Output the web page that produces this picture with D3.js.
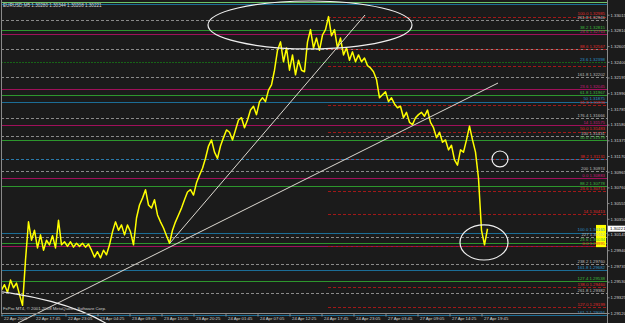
<!DOCTYPE html>
<html>
<head>
<meta charset="utf-8">
<script src="https://cdn.jsdelivr.net/npm/d3@7"></script>
<style>
  html, body { margin: 0; padding: 0; background: #1b1b1b; }
  svg { display: block; }
  text { font-family: "Liberation Sans", Arial, sans-serif; }
</style>
</head>
<body>
<svg id="chart"></svg>
<script>
// EURUSD M5 close line, one value every 6 bars (30 min)
const symbolHeader = 'EURUSD,M5  1.30280 1.30344 1.30208 1.30221';
const copyrightText = 'FxPro MT4, \u00a9 2001-2008 MetaQuotes Software Corp.';
const lastPrice = 1.30221;
const barsPerSample = 6;

const closePrices = [
  1.2942, 1.2949, 1.2939, 1.2955, 1.2945, 1.2951, 1.2936, 1.2922, 1.2981, 1.3031,
  1.3007, 1.3020, 1.2997, 1.3014, 1.2994, 1.3007, 1.3001, 1.3013, 1.2997, 1.3033,
  1.3001, 1.3005, 1.2999, 1.3005, 1.2998, 1.3003, 1.2999, 1.3003, 1.2998, 1.3002,
  1.2994, 1.2985, 1.2992, 1.2984, 1.2994, 1.2988, 1.3001, 1.3018, 1.3031, 1.3020,
  1.3027, 1.3014, 1.3027, 1.3018, 1.3001, 1.3036, 1.3053, 1.3062, 1.3073, 1.3053,
  1.3049, 1.3060, 1.3040, 1.3031, 1.3023, 1.3013, 1.3003, 1.3020, 1.3031, 1.3040,
  1.3049, 1.3060, 1.3070, 1.3073, 1.3066, 1.3082, 1.3092, 1.3101, 1.3114, 1.3130,
  1.3138, 1.3122, 1.3114, 1.3130, 1.3141, 1.3151, 1.3148, 1.3138, 1.3151, 1.3164,
  1.3167, 1.3154, 1.3164, 1.3177, 1.3182, 1.3171, 1.3188, 1.3193, 1.3188, 1.3203,
  1.3210, 1.3229, 1.3255, 1.3266, 1.3240, 1.3258, 1.3229, 1.3249, 1.3223, 1.3242,
  1.3229, 1.3227, 1.3266, 1.3282, 1.3258, 1.3271, 1.3255, 1.3275, 1.3282, 1.3299,
  1.3274, 1.3282, 1.3258, 1.3271, 1.3249, 1.3258, 1.3242, 1.3253, 1.3240, 1.3249,
  1.3240, 1.3245, 1.3235, 1.3232, 1.3227, 1.3217, 1.3193, 1.3197, 1.3201, 1.3188,
  1.3193, 1.3185, 1.3180, 1.3182, 1.3167, 1.3174, 1.3161, 1.3158, 1.3167, 1.3171,
  1.3174, 1.3169, 1.3177, 1.3161, 1.3154, 1.3141, 1.3148, 1.3135, 1.3138, 1.3125,
  1.3131, 1.3112, 1.3105, 1.3125, 1.3122, 1.3138, 1.3156, 1.3138, 1.3122, 1.3088,
  1.3020, 1.3001, 1.3022
];

// Time scale labels, one every 64 bars
const barsPerTimeLabel = 64;
const timeLabels = [
  '22 Apr 2009', '22 Apr 17:45', '22 Apr 23:05', '23 Apr 04:25', '23 Apr 09:45',
  '23 Apr 15:05', '23 Apr 20:25', '24 Apr 01:45', '24 Apr 07:05', '24 Apr 12:25',
  '24 Apr 17:45', '24 Apr 23:05', '27 Apr 03:45', '27 Apr 09:05', '27 Apr 14:25',
  '27 Apr 19:45'
];

const priceTicks = [
  1.29120, 1.29325, 1.29530, 1.29735, 1.29940, 1.30145, 1.30350, 1.30555, 1.30760, 1.30965,
  1.31170, 1.31375, 1.31580, 1.31785, 1.31990, 1.32195, 1.32400, 1.32605, 1.32810, 1.33015
];

// Horizontal Fibonacci levels (several tool sets)
const levelGroups = [
  'greenLight', 'blue', 'red', 'gray', 'green', 'magenta', 'gray', 'red', 'greenDash', 'red',
  'gray', 'magenta', 'green', 'blue', 'red', 'gray', 'magenta', 'red', 'gray', 'green',
  'red', 'blueDash', 'gray', 'magenta', 'green', 'red', 'red', 'blue', 'gray', 'green',
  'magenta', 'red', 'gray', 'blue', 'green', 'red', 'gray', 'red', 'blue'
];
const levelPrices = [
  1.33187, 1.33155, 1.32985, 1.32946, 1.32815, 1.32763, 1.32567, 1.32567, 1.32398, 1.32345,
  1.32202, 1.32045, 1.31967, 1.31875, 1.31836, 1.31666, 1.31575, 1.31483, 1.31431, 1.31379,
  1.31131, 1.31131, 1.30974, 1.30883, 1.30778, 1.30713, 1.30413, 1.30165, 1.30112, 1.30034,
  1.29995, 1.29995, 1.29760, 1.29682, 1.29538, 1.29460, 1.29382, 1.29199, 1.29094
];
const levelRatios = [
  '', '', '100.0', '261.8', '38.2', '23.6', '', '88.6', '23.6', '',
  '161.8', '23.6', '61.8', '50', '61.8', '176.4', '14', '50.0', '100', '50.0',
  '38.2', '', '200', '0.0', '88.2', '23.6', '14', '100.0', '227', '23.6',
  '', '0.0', '238.2', '161.8', '127.4', '138.0', '261.8', '127.0', '161.2'
];
// the red set is drawn from the top of 24 Apr
const redFiboStartBar = 653;

// Trend lines: [bar, price] -> [bar, price]
const trendLines = [
  { from: [337, 1.30034], to: [727, 1.33011] },
  { from: [33, 1.28990], to: [993, 1.32123] }
];

// Ellipses marked on the chart: centre bar/price and radii
const ellipseBars = [617, 997, 965, -123];
const ellipsePrices = [1.32881, 1.31131, 1.30041, 1.28402];
const ellipseBarRadii = [204, 16, 48, 400];
const ellipsePriceRadii = [0.00313, 0.00104, 0.00229, 0.01045];

// Range highlighted at the right edge
const highlightRange = [1.29980, 1.30270];

const width = 625;
const height = 323;
const plot = { left: 1, right: 607, top: 0, bottom: 313 };
const fontSize = 4.3;
const labelGap = 4.7;

const levelStyles = {
  greenLight: { stroke: '#6cc468', dash: null, label: '#7fd07a' },
  blue: { stroke: '#1c6d96', dash: null, label: '#2b93c9' },
  green: { stroke: '#2d962d', dash: null, label: '#3dbd3d' },
  magenta: { stroke: '#a0105a', dash: null, label: '#cf1a7a' },
  gray: { stroke: '#8a8a8a', dash: '3,2', label: '#bcbcbc' },
  red: { stroke: '#a01818', dash: '3,2', label: '#e02a2a' },
  blueDash: { stroke: '#2a7aab', dash: '3,2', label: '#2b93c9' },
  greenDash: { stroke: '#176317', dash: '2,1', label: '#2b93c9' }
};

const svg = d3.select('#chart')
  .attr('width', width)
  .attr('height', height);

svg.append('rect')
  .attr('width', width)
  .attr('height', height)
  .attr('fill', '#1b1b1b');

svg.append('defs').append('clipPath')
  .attr('id', 'plot-clip')
  .append('rect')
  .attr('x', plot.left)
  .attr('y', 0)
  .attr('width', plot.right - plot.left)
  .attr('height', height);

const x = d3.scaleLinear()
  .domain([0, 1200])
  .range([1.5, 601.5]);

const y = d3.scaleLinear()
  .domain([1.29120, 1.33207])
  .range([plot.bottom, plot.top]);

const snap = v => Math.round(v) + 0.5;

const chart = svg.append('g').attr('clip-path', 'url(#plot-clip)');

// Levels
const levels = levelPrices.map((price, i) => ({
  price,
  group: levelGroups[i],
  ratio: levelRatios[i]
}));

chart.append('g')
  .attr('class', 'levels')
  .selectAll('line')
  .data(levels)
  .join('line')
  .attr('x1', d => d.group === 'red' ? x(redFiboStartBar) : plot.left)
  .attr('x2', plot.right)
  .attr('y1', d => snap(y(d.price)))
  .attr('y2', d => snap(y(d.price)))
  .attr('stroke', d => levelStyles[d.group].stroke)
  .attr('stroke-width', 1)
  .attr('stroke-dasharray', d => levelStyles[d.group].dash)
  .attr('shape-rendering', 'crispEdges');

// Price line
const line = d3.line()
  .x((d, i) => x(i * barsPerSample))
  .y(d => y(d));

chart.append('path')
  .datum(closePrices)
  .attr('d', line)
  .attr('fill', 'none')
  .attr('stroke', '#ffff00')
  .attr('stroke-width', 1.5)
  .attr('stroke-linejoin', 'round');

// Trend lines
chart.append('g')
  .selectAll('line')
  .data(trendLines)
  .join('line')
  .attr('x1', d => x(d.from[0]))
  .attr('y1', d => y(d.from[1]))
  .attr('x2', d => x(d.to[0]))
  .attr('y2', d => y(d.to[1]))
  .attr('stroke', '#dedad2')
  .attr('stroke-width', 1);

// Ellipses
chart.append('g')
  .selectAll('ellipse')
  .data(ellipseBars.map((bar, i) => ({
    bar,
    price: ellipsePrices[i],
    rb: ellipseBarRadii[i],
    rp: ellipsePriceRadii[i]
  })))
  .join('ellipse')
  .attr('cx', d => x(d.bar))
  .attr('cy', d => y(d.price))
  .attr('rx', d => x(d.bar + d.rb) - x(d.bar))
  .attr('ry', d => y(d.price - d.rp) - y(d.price))
  .attr('fill', 'none')
  .attr('stroke', '#f0f0f0')
  .attr('stroke-width', 1.2);

// Yellow range block at the right edge
chart.append('rect')
  .attr('x', plot.right - 11)
  .attr('width', 10)
  .attr('y', y(highlightRange[1]))
  .attr('height', y(highlightRange[0]) - y(highlightRange[1]))
  .attr('fill', '#ffff00');

// Level descriptions, stacked upward when two levels sit close together
const labelled = levels
  .filter(d => d.ratio !== '')
  .map(d => ({ ...d, base: snap(y(d.price)) - 1.3 }))
  .sort((a, b) => b.base - a.base);

labelled.forEach((d, i) => {
  if (i > 0) d.base = Math.min(d.base, labelled[i - 1].base - labelGap);
});

svg.append('g')
  .selectAll('text')
  .data(labelled)
  .join('text')
  .attr('x', plot.right - 2)
  .attr('y', d => d.base)
  .attr('text-anchor', 'end')
  .attr('font-size', fontSize)
  .attr('fill', d => levelStyles[d.group].label)
  .text(d => `${d.ratio}  ${d.price.toFixed(5)}`);

// Left border
svg.append('line')
  .attr('x1', plot.left + 0.5).attr('x2', plot.left + 0.5)
  .attr('y1', 0).attr('y2', plot.bottom)
  .attr('stroke', '#8a8a8a');

// Price axis
const yAxis = d3.axisRight(y)
  .tickValues(priceTicks)
  .tickFormat(d3.format('.5f'))
  .tickSize(2)
  .tickPadding(1);

const yAxisG = svg.append('g')
  .attr('transform', `translate(${plot.right + 0.5},0)`)
  .call(yAxis);

// Time axis
const xAxis = d3.axisBottom(x)
  .tickValues(timeLabels.map((t, i) => i * barsPerTimeLabel))
  .tickFormat((d, i) => timeLabels[i])
  .tickSize(3);

const xAxisG = svg.append('g')
  .attr('transform', `translate(0,${plot.bottom + 0.5})`)
  .call(xAxis);

xAxisG.select('.domain').attr('d', `M${plot.left},0H${plot.right}`);
yAxisG.select('.domain').attr('d', `M0,${plot.top}V${height}`);

[xAxisG, yAxisG].forEach(g => {
  g.select('.domain').attr('stroke', '#8a8a8a');
  g.selectAll('.tick line').attr('stroke', '#8a8a8a');
  g.selectAll('.tick text')
    .attr('fill', '#d0d0d0')
    .attr('font-size', fontSize)
    .attr('font-family', '"Liberation Sans", Arial, sans-serif');
});

xAxisG.selectAll('.tick text')
  .attr('text-anchor', 'start')
  .attr('x', 2)
  .attr('y', 3.5);

// Last price marker on the axis
const lastY = y(lastPrice);
svg.append('rect')
  .attr('x', plot.right + 1)
  .attr('y', lastY - 3)
  .attr('width', width - plot.right - 1)
  .attr('height', 6)
  .attr('fill', '#ffffff');

svg.append('text')
  .attr('x', plot.right + 3)
  .attr('y', lastY)
  .attr('dy', '0.35em')
  .attr('font-size', fontSize)
  .attr('fill', '#000000')
  .text(lastPrice.toFixed(5));

// Header and copyright
svg.append('text')
  .attr('x', 3)
  .attr('y', 7)
  .attr('font-size', 4.6)
  .attr('fill', '#d8d8d8')
  .text(symbolHeader);

svg.append('text')
  .attr('x', 3)
  .attr('y', 310)
  .attr('font-size', fontSize)
  .attr('fill', '#cfcfcf')
  .text(copyrightText);
</script>
</body>
</html>
